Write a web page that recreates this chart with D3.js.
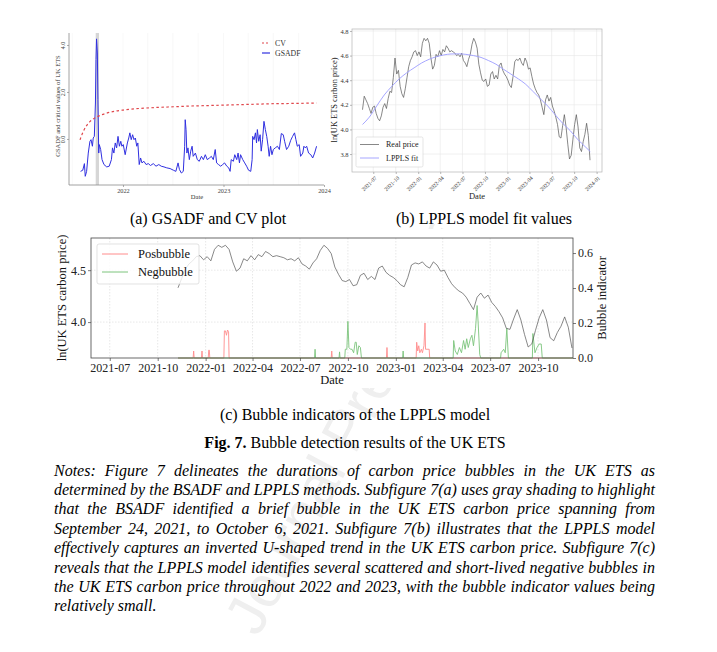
<!DOCTYPE html>
<html>
<head>
<meta charset="utf-8">
<script src="https://cdn.jsdelivr.net/npm/d3@7"></script>
<style>
  body { margin: 0; background: #fff; }
  svg { display: block; }
</style>
</head>
<body>
<div id="page"></div>
<script>
// ---------- data ----------
// (a) GSADF statistic and critical values
var gsadfDates = ["2021-07-31","2021-08-08","2021-08-14","2021-08-17","2021-08-22","2021-08-28","2021-09-03","2021-09-07","2021-09-12","2021-09-15","2021-09-19","2021-09-23","2021-09-25","2021-09-27","2021-09-30","2021-10-02","2021-10-05","2021-10-07","2021-10-12","2021-10-17","2021-10-24","2021-11-03","2021-11-12","2021-11-20","2021-11-24","2021-11-29","2021-12-04","2021-12-09","2021-12-14","2021-12-19","2021-12-24","2021-12-28","2022-01-02","2022-01-09","2022-01-17","2022-01-22","2022-01-26","2022-01-31","2022-02-05","2022-02-10","2022-02-15","2022-02-20","2022-02-24","2022-03-01","2022-03-06","2022-03-11","2022-03-18","2022-03-26","2022-04-03","2022-04-11","2022-04-21","2022-05-01","2022-05-11","2022-05-20","2022-05-30","2022-06-09","2022-06-21","2022-07-03","2022-07-12","2022-07-20","2022-07-25","2022-08-01","2022-08-08","2022-08-13","2022-08-15","2022-08-18","2022-08-21","2022-08-25","2022-08-30","2022-09-04","2022-09-09","2022-09-13","2022-09-21","2022-09-28","2022-10-05","2022-10-13","2022-10-20","2022-10-27","2022-11-03","2022-11-11","2022-11-18","2022-11-25","2022-12-02","2022-12-07","2022-12-14","2022-12-22","2022-12-29","2023-01-05","2023-01-13","2023-01-20","2023-01-25","2023-01-29","2023-02-06","2023-02-11","2023-02-18","2023-02-23","2023-02-28","2023-03-04","2023-03-12","2023-03-19","2023-03-26","2023-04-02","2023-04-10","2023-04-15","2023-04-17","2023-04-22","2023-04-27","2023-05-01","2023-05-04","2023-05-09","2023-05-14","2023-05-18","2023-05-23","2023-05-28","2023-06-02","2023-06-07","2023-06-12","2023-06-16","2023-06-21","2023-06-26","2023-07-01","2023-07-08","2023-07-16","2023-07-23","2023-07-30","2023-08-06","2023-08-11","2023-08-18","2023-08-26","2023-09-02","2023-09-09","2023-09-16","2023-09-21","2023-09-26","2023-10-03","2023-10-08","2023-10-16","2023-10-20","2023-10-25","2023-10-30","2023-11-06","2023-11-14","2023-11-21","2023-11-28","2023-12-05"];
var gsadfValues = [-1.38,-1.33,-1.05,-1.59,-1.38,-0.6,-0.1,-0.03,-0.31,0.04,0.11,1.53,3.38,4.26,3.66,1.67,-0.6,-0.24,-0.45,-0.88,-1.09,-1.19,-1.16,-0.88,-0.38,-0.6,-0.17,-0.38,0.11,-0.31,-0.1,-0.31,-0.24,-0.67,-0.17,0.04,0.26,-0.03,0.18,-0.03,0.04,-0.31,-0.17,-1.09,-0.81,-1.02,-0.95,-1.09,-1.05,-1.13,-1.05,-1.16,-1.09,-1.16,-1.19,-1.23,-1.26,-1.33,-1.38,-1.02,-1.3,-1.45,-1.38,-0.31,0.82,0.4,-0.6,-0.38,-0.88,-0.52,-0.31,-0.74,-0.6,-0.88,-0.95,-0.74,-0.88,-0.67,-0.88,-0.81,-0.74,-0.88,-0.45,-1.02,-1.09,-1.16,-1.09,-1.02,-1.16,-1.23,-1.38,-0.88,-0.95,-0.67,-0.88,-0.6,-1.02,-0.67,-0.88,-1.02,-1.16,-1.33,-1.38,-0.88,0.11,-0.03,0.26,-0.17,0.4,-0.1,0.18,-0.52,-0.03,0.75,0.4,0.11,-0.31,-0.74,-0.31,-0.67,-0.45,-0.38,-0.31,-0.45,0.23,0.18,-0.1,-0.45,-0.31,-0.06,0.11,0.26,-0.03,-0.31,-0.24,-0.74,-0.6,-0.31,-0.38,-0.31,-0.6,-0.67,-0.81,-0.6,-0.31];
var cvDates = ["2021-07-29","2021-08-03","2021-08-10","2021-08-22","2021-09-03","2021-09-15","2021-09-27","2021-10-16","2021-11-03","2021-12-03","2022-01-02","2022-03-04","2022-05-03","2022-07-03","2022-09-01","2022-11-01","2022-12-31","2023-03-02","2023-05-01","2023-07-01","2023-08-31","2023-12-05"];
var cvValues = [-0.04,0.12,0.32,0.57,0.74,0.85,0.93,1.03,1.1,1.18,1.23,1.3,1.34,1.37,1.4,1.42,1.44,1.46,1.48,1.5,1.51,1.53];
var bsadfBubble = ["2021-09-24", "2021-10-06"];
var yearTicks = ["2022", "2023", "2024"];

// (b) weekly ln price from 2021-05-18, and the LPPLS fit
var priceStart = "2021-05-18";
var priceValues = [4.16,4.27,4.24,4.21,4.17,4.13,4.18,4.19,4.13,4.09,4.07,4.11,4.18,4.21,4.17,4.25,4.31,4.30,4.42,4.58,4.45,4.48,4.35,4.29,4.26,4.33,4.42,4.51,4.56,4.59,4.63,4.64,4.60,4.63,4.59,4.70,4.74,4.72,4.74,4.70,4.58,4.49,4.52,4.61,4.59,4.64,4.60,4.65,4.63,4.68,4.66,4.63,4.64,4.63,4.62,4.60,4.61,4.59,4.62,4.56,4.54,4.51,4.57,4.61,4.69,4.74,4.71,4.66,4.53,4.46,4.40,4.39,4.41,4.35,4.36,4.45,4.47,4.41,4.44,4.41,4.52,4.54,4.48,4.45,4.43,4.40,4.36,4.34,4.43,4.55,4.57,4.56,4.58,4.54,4.52,4.58,4.55,4.49,4.50,4.43,4.37,4.33,4.30,4.28,4.24,4.18,4.12,4.24,4.28,4.23,4.26,4.19,4.15,4.10,4.04,3.94,3.93,4.03,4.12,4.02,3.88,3.76,3.79,3.92,4.04,4.12,4.02,3.85,3.82,3.90,3.96,4.05,3.95,3.75];
var fitDates = ["2021-05-18","2021-06-15","2021-07-15","2021-08-15","2021-09-15","2021-10-15","2021-11-15","2021-12-15","2022-01-15","2022-02-15","2022-03-15","2022-04-15","2022-05-15","2022-06-15","2022-07-15","2022-08-15","2022-09-15","2022-10-15","2022-11-15","2022-12-15","2023-01-15","2023-02-15","2023-03-15","2023-04-15","2023-05-15","2023-06-15","2023-07-15","2023-08-15","2023-09-15","2023-10-15","2023-11-15","2023-12-06"];
var fitValues = [4.04,4.10,4.19,4.28,4.35,4.41,4.46,4.50,4.54,4.57,4.59,4.605,4.613,4.614,4.61,4.60,4.585,4.56,4.53,4.49,4.45,4.41,4.37,4.31,4.25,4.19,4.12,4.05,3.99,3.92,3.86,3.82];
var quarterTicks = ["2021-07","2021-10","2022-01","2022-04","2022-07","2022-10","2023-01","2023-04","2023-07","2023-10","2024-01"];

// (c) bubble indicators
var cStart = "2021-11-05";
var posDates = ["2021-11-09","2021-12-08","2021-12-09","2021-12-10","2021-12-24","2021-12-25","2021-12-26","2022-01-06","2022-01-07","2022-01-08","2022-01-09","2022-02-05","2022-02-06","2022-02-08","2022-02-10","2022-02-12","2022-02-14","2022-02-15","2022-08-30","2022-08-31","2022-09-01","2022-12-14","2022-12-15","2022-12-16","2023-02-09","2023-02-10","2023-02-12","2023-02-14","2023-02-16","2023-02-19","2023-02-21","2023-02-24","2023-02-26","2023-02-27","2023-03-06","2023-03-07","2023-12-07"];
var posValues = [0,0,0.04,0,0,0.04,0,0,0.045,0.045,0,0,0.155,0.155,0.13,0.16,0.15,0,0,0.04,0,0,0.06,0,0,0.09,0.04,0.07,0.03,0.05,0.03,0.07,0.2,0.05,0.05,0,0];
var negDates = ["2021-11-09","2022-07-29","2022-07-30","2022-07-31","2022-09-14","2022-09-15","2022-09-16","2022-09-25","2022-09-26","2022-09-29","2022-10-01","2022-10-03","2022-10-06","2022-10-09","2022-10-12","2022-10-15","2022-10-17","2022-10-19","2022-10-22","2022-10-25","2022-10-27","2023-01-14","2023-01-15","2023-01-16","2023-04-21","2023-04-22","2023-04-25","2023-04-29","2023-05-03","2023-05-07","2023-05-11","2023-05-14","2023-05-17","2023-05-20","2023-05-24","2023-05-27","2023-05-30","2023-06-03","2023-06-06","2023-06-08","2023-06-11","2023-06-13","2023-07-21","2023-07-22","2023-07-27","2023-07-30","2023-08-02","2023-08-05","2023-09-20","2023-09-21","2023-09-25","2023-09-29","2023-10-03","2023-10-07","2023-10-09","2023-12-07"];
var negValues = [0,0,0.05,0,0,0.035,0,0,0.05,0.05,0.21,0.06,0.05,0.05,0.03,0.09,0.09,0.02,0.07,0.06,0,0,0.04,0,0,0.1,0.04,0.02,0.06,0.03,0.1,0.05,0.11,0.06,0.11,0.13,0.07,0.17,0.3,0.2,0.02,0,0,0.03,0.05,0.03,0.17,0,0,0.14,0.03,0.06,0.08,0.08,0,0];

var noteLines = [
  "Notes: Figure 7 delineates the durations of carbon price bubbles in the UK ETS as",
  "determined by the BSADF and LPPLS methods. Subfigure 7(a) uses gray shading to highlight",
  "that the BSADF identified a brief bubble in the UK ETS carbon price spanning from",
  "September 24, 2021, to October 6, 2021. Subfigure 7(b) illustrates that the LPPLS model",
  "effectively captures an inverted U-shaped trend in the UK ETS carbon price. Subfigure 7(c)",
  "reveals that the LPPLS model identifies several scattered and short-lived negative bubbles in",
  "the UK ETS carbon price throughout 2022 and 2023, with the bubble indicator values being",
  "relatively small."
];

// ---------- setup ----------
var parse = d3.timeParse("%Y-%m-%d");
var parseMonth = d3.timeParse("%Y-%m");
var serif = "'Liberation Serif','Times New Roman',serif";

var priceDates = priceValues.map(function (v, i) { return d3.timeDay.offset(parse(priceStart), 7 * i); });
var priceSeries = priceValues.map(function (v, i) { return [priceDates[i], v]; });

var svg = d3.select("#page").append("svg")
  .attr("width", 717).attr("height", 652)
  .style("font-family", serif);

svg.append("rect").attr("width", 717).attr("height", 652).attr("fill", "#fff");

// faint page watermark; the chart images sit on top of it (opaque white)
svg.append("text")
  .attr("transform", "translate(258,638) rotate(-62)")
  .attr("font-family", "'Liberation Sans',Arial,sans-serif")
  .attr("font-size", 58)
  .attr("fill", "#efefef")
  .text("Journal Pre-proof");
svg.append("rect").attr("x", 40).attr("y", 14).attr("width", 575).attr("height", 194).attr("fill", "#fff");
svg.append("rect").attr("x", 40).attr("y", 229).attr("width", 575).attr("height", 159).attr("fill", "#fff");

function styleAxis(g, size, color) {
  g.selectAll(".domain").remove();
  g.selectAll("line").attr("stroke", color).attr("stroke-width", 0.7);
  g.selectAll("text").attr("font-family", serif).attr("font-size", size).attr("fill", "#222");
}

// ================= (a) GSADF and CV =================
var xA = d3.scaleTime().domain([parse("2021-06-19"), parse("2024-01-01")]).range([69, 324]);
var yA = d3.scaleLinear().domain([-1.96, 4.51]).range([185, 33]);
var gA = svg.append("g");

// very light grid
gA.selectAll(".gridA")
  .data(d3.timeMonth.every(3).range(parse("2021-07-01"), parse("2024-01-01")))
  .enter().append("line")
  .attr("x1", function (d) { return xA(d); }).attr("x2", function (d) { return xA(d); })
  .attr("y1", 33).attr("y2", 185)
  .attr("stroke", "#f3f3f3").attr("stroke-width", 0.6);

gA.append("rect")
  .attr("x", xA(parse(bsadfBubble[0])))
  .attr("width", xA(parse(bsadfBubble[1])) - xA(parse(bsadfBubble[0])))
  .attr("y", 33).attr("height", 152)
  .attr("fill", "#d6d6d6");

var lineA = d3.line().x(function (d) { return xA(d[0]); }).y(function (d) { return yA(d[1]); });
var lineACv = d3.line().curve(d3.curveMonotoneX).x(function (d) { return xA(d[0]); }).y(function (d) { return yA(d[1]); });

gA.append("path")
  .datum(gsadfDates.map(function (d, i) { return [parse(d), gsadfValues[i]]; }))
  .attr("d", lineA).attr("fill", "none")
  .attr("stroke", "#2f2fe0").attr("stroke-width", 1).attr("stroke-linejoin", "round");

gA.append("path")
  .datum(cvDates.map(function (d, i) { return [parse(d), cvValues[i]]; }))
  .attr("d", lineACv).attr("fill", "none")
  .attr("stroke", "#e0474c").attr("stroke-width", 1.2).attr("stroke-dasharray", "2.5,2.5");

// axis lines
gA.append("line").attr("x1", 69).attr("x2", 69).attr("y1", 33).attr("y2", 185).attr("stroke", "#8a8a8a").attr("stroke-width", 0.8);
gA.append("line").attr("x1", 69).attr("x2", 324).attr("y1", 185).attr("y2", 185).attr("stroke", "#8a8a8a").attr("stroke-width", 0.8);

var axA = gA.append("g").attr("transform", "translate(0,185)")
  .call(d3.axisBottom(xA).tickValues(yearTicks.map(function (y) { return d3.timeParse("%Y")(y); }))
    .tickFormat(d3.timeFormat("%Y")).tickSize(2).tickPadding(1.5));
styleAxis(axA, 6.3, "#8a8a8a");
axA.selectAll("text").attr("fill", "#444");

var ayA = gA.append("g").attr("transform", "translate(69,0)")
  .call(d3.axisLeft(yA).tickValues([0, 2, 4]).tickSize(2));
styleAxis(ayA, 6, "#8a8a8a");
ayA.selectAll("text").attr("x", 0).attr("dy", 0).attr("text-anchor", "middle")
  .attr("transform", "translate(-4,0) rotate(-90)").attr("fill", "#444");

gA.append("text").attr("x", 197).attr("y", 199).attr("text-anchor", "middle")
  .attr("font-size", 6.5).attr("fill", "#333").text("Date");
gA.append("text").attr("transform", "translate(60,106) rotate(-90)").attr("text-anchor", "middle")
  .attr("font-size", 6.5).attr("fill", "#333").text("GSADF and critical values of UK ETS");

// legend (a)
gA.append("line").attr("x1", 262).attr("x2", 270).attr("y1", 43).attr("y2", 43)
  .attr("stroke", "#e0474c").attr("stroke-width", 1.2).attr("stroke-dasharray", "2,2");
gA.append("text").attr("x", 275).attr("y", 43).attr("dy", "0.35em").attr("font-size", 7.8).attr("fill", "#333").text("CV");
gA.append("line").attr("x1", 262).attr("x2", 270).attr("y1", 53).attr("y2", 53)
  .attr("stroke", "#2f2fe0").attr("stroke-width", 1.2);
gA.append("text").attr("x", 275).attr("y", 53).attr("dy", "0.35em").attr("font-size", 7.8).attr("fill", "#333").text("GSADF");

// ================= (b) LPPLS fit =================
var xB = d3.scaleTime().domain([parse("2021-04-05"), parse("2024-01-23")]).range([352, 602]);
var yB = d3.scaleLinear().domain([3.654, 4.816]).range([172, 29]);
var gB = svg.append("g");
var qTicks = quarterTicks.map(function (q) { return parseMonth(q); });
var yTicksB = [3.8, 4.0, 4.2, 4.4, 4.6, 4.8];

gB.selectAll(".gxB").data(qTicks).enter().append("line")
  .attr("x1", function (d) { return xB(d); }).attr("x2", function (d) { return xB(d); })
  .attr("y1", 29).attr("y2", 172).attr("stroke", "#e6e6e6").attr("stroke-width", 0.6);
gB.selectAll(".gyB").data(yTicksB).enter().append("line")
  .attr("x1", 352).attr("x2", 602)
  .attr("y1", function (d) { return yB(d); }).attr("y2", function (d) { return yB(d); })
  .attr("stroke", "#e6e6e6").attr("stroke-width", 0.6);

var lineB = d3.line().x(function (d) { return xB(d[0]); }).y(function (d) { return yB(d[1]); });
gB.append("path").datum(priceSeries).attr("d", lineB).attr("fill", "none")
  .attr("stroke", "#555").attr("stroke-width", 0.7).attr("stroke-linejoin", "round");
var lineBFit = d3.line().curve(d3.curveMonotoneX).x(function (d) { return xB(d[0]); }).y(function (d) { return yB(d[1]); });
gB.append("path").datum(fitDates.map(function (d, i) { return [parse(d), fitValues[i]]; }))
  .attr("d", lineBFit).attr("fill", "none").attr("stroke", "#9c9cff").attr("stroke-width", 0.9);

gB.append("rect").attr("x", 352).attr("y", 29).attr("width", 250).attr("height", 143)
  .attr("fill", "none").attr("stroke", "#b5b5b5").attr("stroke-width", 0.7);

var axB = gB.append("g").attr("transform", "translate(0,172)")
  .call(d3.axisBottom(xB).tickValues(qTicks).tickFormat(d3.timeFormat("%Y-%m")).tickSize(2));
styleAxis(axB, 5.6, "#999");
axB.selectAll("text").attr("y", 0).attr("dy", "0.35em").attr("text-anchor", "end")
  .attr("transform", "translate(2,5) rotate(-45)").attr("fill", "#333");

var ayB = gB.append("g").attr("transform", "translate(352,0)")
  .call(d3.axisLeft(yB).tickValues(yTicksB).tickFormat(d3.format(".1f")).tickSize(2).tickPadding(1.5));
styleAxis(ayB, 6.5, "#999");
ayB.selectAll("text").attr("fill", "#333");

gB.append("text").attr("x", 477).attr("y", 199).attr("text-anchor", "middle")
  .attr("font-size", 8.5).attr("fill", "#222").text("Date");
gB.append("text").attr("transform", "translate(337,100) rotate(-90)").attr("text-anchor", "middle")
  .attr("font-size", 8.4).attr("fill", "#222").text("ln(UK ETS carbon price)");

// legend (b)
gB.append("rect").attr("x", 356).attr("y", 137).attr("width", 67).attr("height", 30).attr("rx", 1.5)
  .attr("fill", "#fff").attr("fill-opacity", 0.85).attr("stroke", "#d5d5d5").attr("stroke-width", 0.6);
gB.append("line").attr("x1", 360).attr("x2", 379).attr("y1", 144.5).attr("y2", 144.5).attr("stroke", "#555").attr("stroke-width", 0.7);
gB.append("text").attr("x", 386).attr("y", 144.5).attr("dy", "0.35em").attr("font-size", 8).attr("fill", "#222").text("Real price");
gB.append("line").attr("x1", 360).attr("x2", 379).attr("y1", 158).attr("y2", 158).attr("stroke", "#9c9cff").attr("stroke-width", 0.9);
gB.append("text").attr("x", 386).attr("y", 158).attr("dy", "0.35em").attr("font-size", 8).attr("fill", "#222").text("LPPLS fit");

// ================= (c) bubble indicators =================
var xC = d3.scaleTime().domain([parse("2021-05-26"), parse("2023-12-07")]).range([91, 573]);
var yCL = d3.scaleLinear().domain([3.654, 4.81]).range([358, 238]);
var yCR = d3.scaleLinear().domain([0, 0.686]).range([358, 238]);
var gC = svg.append("g");
var qTicksC = qTicks.slice(0, 10);

gC.selectAll(".gxC").data(qTicksC).enter().append("line")
  .attr("x1", function (d) { return xC(d); }).attr("x2", function (d) { return xC(d); })
  .attr("y1", 238).attr("y2", 358).attr("stroke", "#d8d8d8").attr("stroke-width", 0.6).attr("stroke-dasharray", "1.5,1.5");
gC.selectAll(".gyC").data([4.0, 4.5]).enter().append("line")
  .attr("x1", 91).attr("x2", 573)
  .attr("y1", function (d) { return yCL(d); }).attr("y2", function (d) { return yCL(d); })
  .attr("stroke", "#d8d8d8").attr("stroke-width", 0.6).attr("stroke-dasharray", "1.5,1.5");

var lineCR = d3.line().x(function (d) { return xC(d[0]); }).y(function (d) { return yCR(d[1]); });
gC.append("path").datum(posDates.map(function (d, i) { return [parse(d), posValues[i]]; }))
  .attr("d", lineCR).attr("fill", "none").attr("stroke", "#ff8c8c").attr("stroke-width", 0.9);
gC.append("path").datum(negDates.map(function (d, i) { return [parse(d), negValues[i]]; }))
  .attr("d", lineCR).attr("fill", "none").attr("stroke", "#7cc47c").attr("stroke-width", 0.9);

var lineCL = d3.line().x(function (d) { return xC(d[0]); }).y(function (d) { return yCL(d[1]); });
gC.append("path").datum(priceSeries.filter(function (d) { return d[0] >= parse(cStart); }))
  .attr("d", lineCL).attr("fill", "none").attr("stroke", "#555").attr("stroke-width", 0.7).attr("stroke-linejoin", "round");

gC.append("rect").attr("x", 91).attr("y", 238).attr("width", 482).attr("height", 120)
  .attr("fill", "none").attr("stroke", "#444").attr("stroke-width", 0.8);

var axC = gC.append("g").attr("transform", "translate(0,358)")
  .call(d3.axisBottom(xC).tickValues(qTicksC).tickFormat(d3.timeFormat("%Y-%m")).tickSize(3).tickPadding(2));
styleAxis(axC, 12, "#444");
var ayCL = gC.append("g").attr("transform", "translate(91,0)")
  .call(d3.axisLeft(yCL).tickValues([4.0, 4.5]).tickFormat(d3.format(".1f")).tickSize(3).tickPadding(2));
styleAxis(ayCL, 12, "#444");
var ayCR = gC.append("g").attr("transform", "translate(573,0)")
  .call(d3.axisRight(yCR).tickValues([0, 0.2, 0.4, 0.6]).tickFormat(d3.format(".1f")).tickSize(3).tickPadding(2));
styleAxis(ayCR, 12, "#444");

gC.append("text").attr("x", 332).attr("y", 384).attr("text-anchor", "middle")
  .attr("font-size", 12.5).attr("fill", "#111").text("Date");
gC.append("text").attr("transform", "translate(66,298) rotate(-90)").attr("text-anchor", "middle")
  .attr("font-size", 12.5).attr("fill", "#111").text("ln(UK ETS carbon price)");
gC.append("text").attr("transform", "translate(606,298) rotate(-90)").attr("text-anchor", "middle")
  .attr("font-size", 12.5).attr("fill", "#111").text("Bubble indicator");

// legend (c)
gC.append("rect").attr("x", 97).attr("y", 244).attr("width", 102).attr("height", 40).attr("rx", 2)
  .attr("fill", "#fff").attr("fill-opacity", 0.8).attr("stroke", "#d5d5d5").attr("stroke-width", 0.7);
gC.append("line").attr("x1", 102).attr("x2", 128).attr("y1", 254).attr("y2", 254).attr("stroke", "#ff8c8c").attr("stroke-width", 1);
gC.append("text").attr("x", 138).attr("y", 254).attr("dy", "0.35em").attr("font-size", 12.5).attr("fill", "#111").text("Posbubble");
gC.append("line").attr("x1", 102).attr("x2", 128).attr("y1", 272).attr("y2", 272).attr("stroke", "#7cc47c").attr("stroke-width", 1);
gC.append("text").attr("x", 138).attr("y", 272).attr("dy", "0.35em").attr("font-size", 12.5).attr("fill", "#111").text("Negbubble");

// ================= captions and notes =================
svg.append("text").attr("x", 208).attr("y", 224).attr("text-anchor", "middle").attr("font-size", 16).attr("fill", "#000")
  .text("(a) GSADF and CV plot");
svg.append("text").attr("x", 484).attr("y", 224).attr("text-anchor", "middle").attr("font-size", 16).attr("fill", "#000")
  .text("(b) LPPLS model fit values");
svg.append("text").attr("x", 355).attr("y", 420).attr("text-anchor", "middle").attr("font-size", 16).attr("fill", "#000")
  .text("(c) Bubble indicators of the LPPLS model");

var fig = svg.append("text").attr("x", 355).attr("y", 448).attr("text-anchor", "middle").attr("font-size", 16).attr("fill", "#000");
fig.append("tspan").attr("font-weight", "bold").text("Fig. 7.");
fig.append("tspan").text(" Bubble detection results of the UK ETS");

var noteLeft = 54, noteWidth = 601;
noteLines.forEach(function (line, i) {
  var t = svg.append("text")
    .attr("x", noteLeft).attr("y", 475.5 + i * 19.4)
    .attr("font-size", 16).attr("font-style", "italic").attr("fill", "#000")
    .text(line);
  if (i < noteLines.length - 1) {
    var spaces = line.split(" ").length - 1;
    var len = t.node().getComputedTextLength();
    t.attr("word-spacing", (noteWidth - len) / spaces);
  }
});
</script>
</body>
</html>
